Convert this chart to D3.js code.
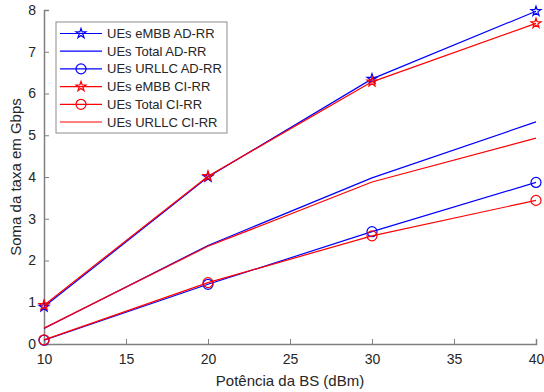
<!DOCTYPE html>
<html>
<head>
<meta charset="utf-8">
<script src="https://cdn.jsdelivr.net/npm/d3@7"></script>
<style>
  body { margin: 0; background: #fff; }
  text { font-family: "Liberation Sans", Arial, sans-serif; fill: #262626; }
</style>
</head>
<body>
<div id="main"></div>
<script>
// chart data
const potencia = [10, 20, 30, 40];
const embbAD = [0.89, 4.00, 6.35, 7.97];
const embbCI = [0.93, 4.02, 6.28, 7.68];
const totalAD = [0.37, 2.36, 3.98, 5.32];
const totalCI = [0.38, 2.34, 3.88, 4.93];
const urllcAD = [0.09, 1.43, 2.69, 3.87];
const urllcCI = [0.10, 1.47, 2.59, 3.44];
const xTicks = [10, 15, 20, 25, 30, 35, 40];
const yTicks = [0, 1, 2, 3, 4, 5, 6, 7, 8];
const legendNames = ["UEs eMBB AD-RR", "UEs Total AD-RR", "UEs URLLC AD-RR",
                     "UEs eMBB CI-RR", "UEs Total CI-RR", "UEs URLLC CI-RR"];
const legendColors = ["blue", "blue", "blue", "red", "red", "red"];
const legendMarks = ["star", "none", "circle", "star", "circle", "none"];

const series = [
    {vals: embbAD, color: "blue", mark: "star"},
    {vals: totalAD, color: "blue", mark: "none"},
    {vals: urllcAD, color: "blue", mark: "circle"},
    {vals: embbCI, color: "red", mark: "star"},
    {vals: totalCI, color: "red", mark: "none"},
    {vals: urllcCI, color: "red", mark: "circle"},
];

const ctx = {w: 544, h: 392, left: 44, right: 536, top: 10, bottom: 344};

const svg = d3.select("#main").append("svg")
    .attr("width", ctx.w)
    .attr("height", ctx.h);

const x = d3.scaleLinear().domain([10, 40]).range([ctx.left, ctx.right]);
const y = d3.scaleLinear().domain([0, 8]).range([ctx.bottom, ctx.top]);

// axes, ticks pointing inward like matlab
const xAxis = svg.append("g")
    .attr("transform", `translate(0,${ctx.bottom})`)
    .call(d3.axisBottom(x).tickValues(xTicks).tickSize(-5).tickPadding(10));
const yAxis = svg.append("g")
    .attr("transform", `translate(${ctx.left},0)`)
    .call(d3.axisLeft(y).tickValues(yTicks).tickSize(-5).tickPadding(8));

[xAxis, yAxis].forEach(function(a) {
    a.selectAll("path").attr("stroke", "#808080").attr("stroke-width", 1.5);
    a.selectAll("line").attr("stroke", "#808080").attr("stroke-width", 1);
    a.selectAll("text").style("font-size", "14px")
        .style("font-family", "'Liberation Sans', Arial, sans-serif").attr("fill", "#262626");
});

svg.append("text")
    .attr("x", (ctx.left + ctx.right) / 2)
    .attr("y", 386)
    .attr("text-anchor", "middle")
    .style("font-size", "15px")
    .text("Potência da BS (dBm)");

svg.append("text")
    .attr("transform", `translate(21,${(ctx.top + ctx.bottom) / 2}) rotate(-90)`)
    .attr("text-anchor", "middle")
    .style("font-size", "15px")
    .text("Soma da taxa em Gbps");

const line = d3.line()
    .x((d, i) => x(potencia[i]))
    .y(d => y(d));

const star = d3.symbol().type(d3.symbolStar).size(30);

function drawMark(g, mark, color, cx, cy) {
    if (mark == "star") {
        g.append("path")
            .attr("d", star())
            .attr("transform", `translate(${cx},${cy})`)
            .attr("fill", "none")
            .attr("stroke", color)
            .attr("stroke-width", 1.2);
    } else if (mark == "circle") {
        g.append("circle")
            .attr("cx", cx)
            .attr("cy", cy)
            .attr("r", 5)
            .attr("fill", "none")
            .attr("stroke", color)
            .attr("stroke-width", 1.2);
    }
}

const plot = svg.append("g").attr("id", "lines");
series.forEach(function(s) {
    plot.append("path")
        .datum(s.vals)
        .attr("d", line)
        .attr("fill", "none")
        .attr("stroke", s.color)
        .attr("stroke-width", 1.2);
    s.vals.forEach(function(v, i) {
        drawMark(plot, s.mark, s.color, x(potencia[i]), y(v));
    });
});

// legend
const leg = svg.append("g").attr("id", "legend");
leg.append("rect")
    .attr("x", 56)
    .attr("y", 22)
    .attr("width", 171)
    .attr("height", 111)
    .attr("fill", "#fff")
    .attr("stroke", "#8c8c8c")
    .attr("stroke-width", 1);

legendNames.forEach(function(name, i) {
    const ly = 33.5 + i * 17.7;
    leg.append("line")
        .attr("x1", 60).attr("x2", 102)
        .attr("y1", ly).attr("y2", ly)
        .attr("stroke", legendColors[i])
        .attr("stroke-width", 1.2);
    drawMark(leg, legendMarks[i], legendColors[i], 81, ly);
    leg.append("text")
        .attr("x", 107)
        .attr("y", ly + 4.5)
        .style("font-size", "13px")
        .text(name);
});
</script>
</body>
</html>
